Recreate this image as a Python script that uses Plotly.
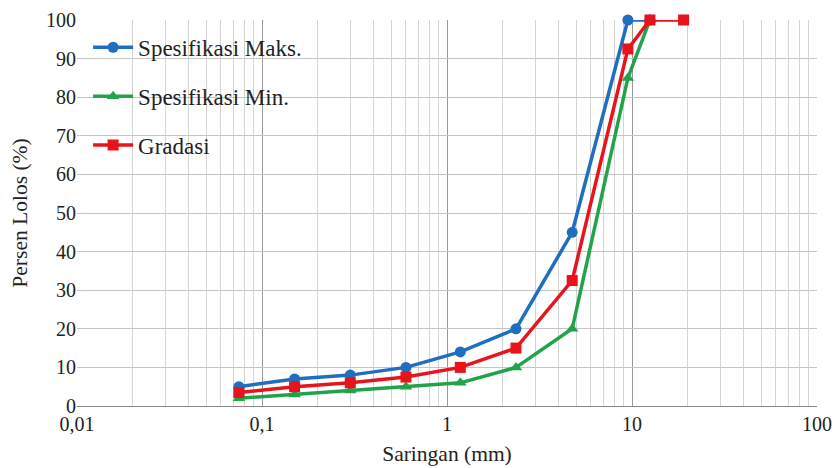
import plotly.graph_objects as go

sieve_maks = [0.075, 0.15, 0.3, 0.6, 1.18, 2.36, 4.75, 9.5, 12.5]
maks = [5, 7, 8, 10, 14, 20, 45, 100, 100]

sieve_min = [0.075, 0.15, 0.3, 0.6, 1.18, 2.36, 4.75, 9.5, 12.5]
minv = [2, 3, 4, 5, 6, 10, 20, 85, 100]

sieve_grad = [0.075, 0.15, 0.3, 0.6, 1.18, 2.36, 4.75, 9.5, 12.5, 19]
gradasi = [3.5, 5, 6, 7.5, 10, 15, 32.5, 92.5, 100, 100]

x_tickvals = [0.01, 0.1, 1, 10, 100]
x_ticktext = ["0,01", "0,1", "1", "10", "100"]
y_tickvals = list(range(0, 101, 10))

minor_vals = [m * d for d in (0.01, 0.1, 1, 10) for m in range(2, 10)]

FONT = "'Liberation Serif', 'Times New Roman', Times, serif"

fig = go.Figure()
fig.add_trace(go.Scatter(x=sieve_maks, y=maks, name="Spesifikasi Maks.", mode="lines+markers",
                         line=dict(color="#1F6EC0", width=3.5), marker=dict(symbol="circle", size=11),
                         legendgroup="a", cliponaxis=False))
fig.add_trace(go.Scatter(x=sieve_min, y=minv, name="Spesifikasi Min.", mode="lines+markers",
                         line=dict(color="#22A34A", width=3.5), marker=dict(symbol="triangle-up", size=11),
                         legendgroup="b", cliponaxis=False))
fig.add_trace(go.Scatter(x=sieve_grad, y=gradasi, name="Gradasi", mode="lines+markers",
                         line=dict(color="#E8141B", width=3.5), marker=dict(symbol="square", size=11),
                         legendgroup="c", cliponaxis=False))

fig.update_layout(
    width=840, height=468,
    margin=dict(l=77, r=23, t=20, b=62),
    paper_bgcolor="white", plot_bgcolor="white",
    font=dict(family=FONT, size=20, color="#222"),
    legend=dict(x=0.015, y=0.985, xanchor="left", yanchor="top", bgcolor="rgba(0,0,0,0)",
                font=dict(family=FONT, size=23), tracegroupgap=16, itemwidth=40),
    showlegend=True,
)
fig.update_xaxes(type="log", range=[-2, 2], tickvals=x_tickvals, ticktext=x_ticktext,
                 showgrid=True, gridcolor="#999999", gridwidth=1, automargin=False,
                 minor=dict(tickvals=minor_vals, showgrid=True, gridcolor="#d4d4d4", gridwidth=1, ticks=""),
                 showline=True, linecolor="#888888", linewidth=1, zeroline=False,
                 ticks="", tickfont=dict(family=FONT, size=20),
                 title=dict(text="Saringan (mm)", font=dict(family=FONT, size=21.5), standoff=11))
fig.update_yaxes(range=[0, 100], tickvals=y_tickvals, showgrid=True, gridcolor="#c4c4c4", gridwidth=1,
                 showline=False, zeroline=False, ticks="", tickfont=dict(family=FONT, size=20),
                 automargin=False,
                 title=dict(text="Persen Lolos (%)", font=dict(family=FONT, size=21.5), standoff=12))

fig.write_html("out.html", config={"displayModeBar": False},
               post_script="document.body.style.margin='0';")
